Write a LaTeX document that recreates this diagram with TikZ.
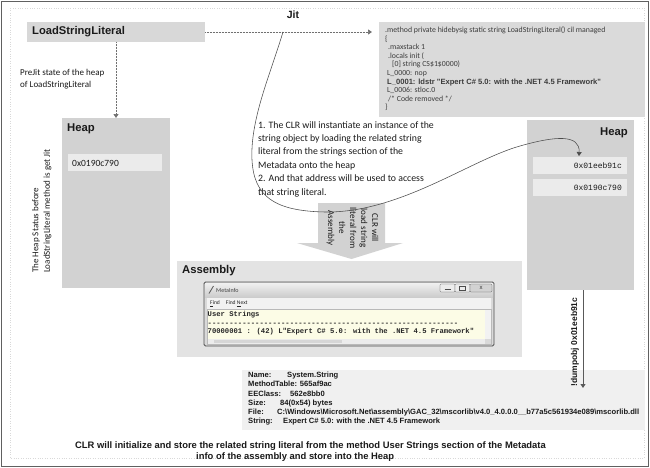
\documentclass[tikz,border=0pt]{standalone}
\usepackage{fontspec}
\setmainfont{Carlito}
\newfontfamily\arialf{Liberation Sans}
\newfontfamily\monof[Ligatures=TeXOff]{Liberation Mono}
\usetikzlibrary{arrows.meta}
\definecolor{framegray}{HTML}{606060}
\definecolor{lslgray}{HTML}{D8D8D8}
\definecolor{codegray}{HTML}{DADADA}
\definecolor{heapgray}{HTML}{D2D2D2}
\definecolor{addrgray}{HTML}{EBEBEB}
\definecolor{asmgray}{HTML}{E3E3E3}
\definecolor{infogray}{HTML}{F0F0F0}
\definecolor{arrowgray}{HTML}{D2D2D2}
\definecolor{linegray}{HTML}{707070}
\definecolor{textdark}{HTML}{1A1A1A}
\definecolor{winborder}{HTML}{505050}
\definecolor{winmenu}{HTML}{F2F2F2}
\definecolor{wincontent}{HTML}{FCFCE6}
\tikzset{
 panel/.style={anchor=north west, inner sep=0pt, outer sep=0pt, draw=none},
 heading/.style={font=\arialf\bfseries\fontsize{11.3}{13}\selectfont, text=textdark, inner sep=0pt},
 body/.style={font=\fontsize{9}{12.5}\selectfont, text=textdark, inner sep=0pt},
 dotline/.style={draw=linegray, line width=0.7pt, dash pattern=on 0.7pt off 0.8pt},
 tip/.style={-{Triangle[width=5pt,length=4pt]}},
 winbtn/.style={draw=gray!60!black, fill=gray!15, rounded corners=1pt, line width=0.3pt},
 captxt/.style={anchor=west, inner sep=0pt, font=\arialf\bfseries\fontsize{9.4}{11}\selectfont, text=textdark},
}
\begin{document}
\begin{tikzpicture}[x=1pt,y=-1pt]
\useasboundingbox (0,0) rectangle (650,467);
\fill[white] (0,0) rectangle (650,467);
\draw[framegray, line width=1pt] (1,1) rectangle (648.5,466);
\draw[gray!30, dotted] (10,8) rectangle (644,458);

% top row
\node[panel, fill=lslgray, minimum width=178pt, minimum height=20pt] (lsl) at (27,22) {};
\node[heading, anchor=west, font=\arialf\bfseries\fontsize{11.2}{13}\selectfont] (lsltxt) at (32,32) {LoadStringLiteral};
\node[heading, font=\arialf\bfseries\fontsize{10.5}{12}\selectfont] (jit) at (293,15) {Jit};

\node[panel, fill=codegray, minimum width=266pt, minimum height=95pt] (code) at (379,22) {};
\node[anchor=north west, inner sep=0pt, align=left, font=\fontsize{7.8}{8.6}\selectfont, text=textdark!85] (codetxt) at (385,26.5) {.method private hidebysig static string LoadStringLiteral() cil managed\\
\{\\
\hspace*{3pt}.maxstack 1\\
\hspace*{3pt}.locals init (\\
\hspace*{7pt}[0] string CS\$1\$0000)\\
\hspace*{2pt}L\_0000: nop\\
\hspace*{2pt}{\arialf\bfseries\fontsize{7.6}{8.6}\selectfont L\_0001: ldstr "Expert C\# 5.0: with the .NET 4.5 Framework"}\\
\hspace*{2pt}L\_0006: stloc.0\\
\hspace*{3pt}/* Code removed */\\
\}};

\draw[dotline, tip, shorten >=7pt] (lsl.east) -- (code.west |- lsl.east);

% left heap
\node[panel, fill=heapgray, minimum width=108pt, minimum height=170pt] (heapL) at (62,118) {};
\node[heading, anchor=west] (heapLt) at (67,129) {Heap};
\node[panel, fill=addrgray, minimum width=94pt, minimum height=17pt] (addrL) at (68,154) {};
\node[anchor=west, inner sep=0pt, font=\fontsize{9.5}{11}\selectfont, text=textdark] (addrLt) at (72,163) {0x0190c790};
\draw[dotline, tip] (lsl.south) -- (heapL.north);
\node[body, anchor=north west, align=left] (prejit) at (20,69) {PreJit state of the heap\\of LoadStringLiteral};
\node[body, rotate=90, anchor=north west, align=left, font=\fontsize{9}{11.5}\selectfont] (status) at (32,273) {The Heap Status before\\LoadStringLiteral method is get Jit};

% explanation text
\node[body, anchor=north west, align=left, font=\fontsize{9.8}{13.4}\selectfont] (clrtext) at (258,121) {1. The CLR will instantiate an instance of the\\string object by loading the related string\\literal from the strings section of the\\Metadata onto the heap\\2. And that address will be used to access\\that string literal.};

% block arrow
\fill[arrowgray] (318,203) -- (385,203) -- (385,243) -- (403,243) -- (351.5,259) -- (297,243) -- (318,243) -- cycle;
\node[body, rotate=-90, align=center, font=\fontsize{9}{11}\selectfont] (arrtxt) at (352.5,228) {CLR will\\load string\\literal from\\the\\Assembly};

% assembly
\node[panel, fill=asmgray, minimum width=345pt, minimum height=96pt] (asm) at (177,261) {};
\node[heading, anchor=west] (asmt) at (182,271) {Assembly};

% MetaInfo window
\draw[winborder, fill=gray!30, rounded corners=1.5pt, line width=0.8pt] (204,282) rectangle (494,346);
\shade[top color=gray!12, bottom color=gray!40] (205,283) rectangle (493,297);
\draw[gray!70!black, line width=0.8pt] (209,293.5) -- (213.5,286);
\node[anchor=west, inner sep=0pt, font=\fontsize{6}{7}\selectfont, text=black!75] (wtitle) at (216,290) {MetaInfo};
\draw[winbtn] (440,284) rectangle (455,292);
\draw[winbtn] (455,284) rectangle (470,292);
\draw[winbtn, fill=gray!35] (470,284) rectangle (492,292);
\draw[black!70, line width=0.6pt] (444.5,289.5) -- (450.5,289.5);
\draw[black!70, line width=0.4pt] (459.5,286) rectangle (465.5,290.5);
\node[inner sep=0pt, font=\arialf\fontsize{6}{7}\selectfont, text=black!80] (wclose) at (481,288) {x};
\fill[winmenu] (207,298) rectangle (491,308.5);
\node[anchor=west, inner sep=0pt, font=\fontsize{5.6}{7}\selectfont, text=black!85] (wmenu) at (210,303.5) {\underline{F}ind\hspace{6pt}Find \underline{N}ext};
\fill[wincontent] (207,309) rectangle (485,338.5);
\fill[gray!10] (485,309) rectangle (491,338.5);
\fill[gray!15] (207,338.5) rectangle (485,344);
\fill[gray!32] (214,339.5) rectangle (342,343);
\draw[gray!55] (207,309) rectangle (491,344);
\node[anchor=north west, inner sep=0pt, align=left, font=\monof\bfseries\fontsize{7.2}{8.6}\selectfont, text=black!85] (wtext) at (207.5,311) {User Strings\\----------------------------------------------------------\\70000001 : (42) L"Expert C\# 5.0: with the .NET 4.5 Framework"};

% right heap
\node[panel, fill=heapgray, minimum width=107pt, minimum height=170pt] (heapR) at (527,120) {};
\node[heading, anchor=east] (heapRt) at (628,133) {Heap};
\node[panel, fill=addrgray, minimum width=94pt, minimum height=17pt] (addrR1) at (533,157) {};
\node[panel, fill=addrgray, minimum width=94pt, minimum height=17pt] (addrR2) at (533,179) {};
\node[anchor=east, inner sep=0pt, font=\monof\fontsize{8}{9}\selectfont, text=textdark] (a1) at (622,165.5) {0x01eeb91c};
\node[anchor=east, inner sep=0pt, font=\monof\fontsize{8}{9}\selectfont, text=textdark] (a2) at (622,187.5) {0x0190c790};

% info box
\node[panel, fill=infogray, minimum width=403pt, minimum height=60pt] (info) at (242,370) {};
\node[anchor=north west, inner sep=0pt, align=left, font=\arialf\bfseries\fontsize{7.6}{9.2}\selectfont, text=textdark] (infotxt) at (248,372) {\makebox[39pt][l]{Name:}System.String\\
MethodTable: 565af9ac\\
\makebox[42pt][l]{EEClass:}562e8bb0\\
\makebox[32pt][l]{Size:}84(0x54) bytes\\
\makebox[29pt][l]{File:}C:\textbackslash Windows\textbackslash Microsoft.Net\textbackslash assembly\textbackslash GAC\_32\textbackslash mscorlib\textbackslash v4.0\_4.0.0.0\_\_b77a5c561934e089\textbackslash mscorlib.dll\\
\makebox[35pt][l]{String:}Expert C\# 5.0: with the .NET 4.5 Framework};

% dumpobj arrow
\coordinate (dumpend) at (583,388);
\draw[draw=gray!70!black, line width=0.8pt, tip] (heapR.south -| dumpend) -- (dumpend);
\node[rotate=90, inner sep=0pt, font=\arialf\bfseries\fontsize{8.5}{10}\selectfont, text=textdark] (dumplbl) at (575,342) {!dumpobj 0x01eeb91c};

% Jit curve
\coordinate (jitpt) at (283,32);
\coordinate (curveend) at (579,156);
\draw[draw=gray!60!black, line width=0.55pt, tip] (jitpt) .. controls (270,75) and (250,120) .. (252,160) .. controls (254,197) and (275,211) .. (325,212) .. controls (400,213) and (470,160) .. (520,146) .. controls (555,136) and (580,134) .. (curveend);

% caption
\node[captxt] (cap1) at (75,446) {CLR will initialize and store the related string literal from the method User Strings section of the Metadata};
\node[captxt] (cap2) at (196,457) {info of the assembly and store into the Heap};
\end{tikzpicture}
\end{document}
